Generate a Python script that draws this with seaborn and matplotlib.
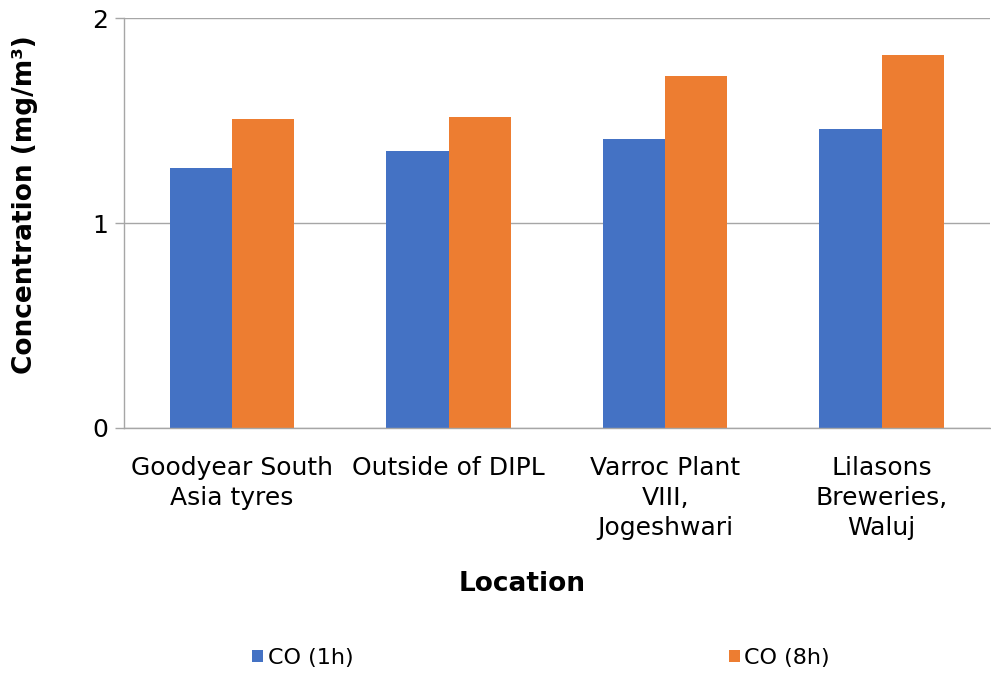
import matplotlib
matplotlib.use('Agg')
import matplotlib.pyplot as plt
import pandas as pd
import seaborn as sns

# values
locations = ['Goodyear South\nAsia tyres', 'Outside of DIPL',
             'Varroc Plant\nVIII,\nJogeshwari', 'Lilasons\nBreweries,\nWaluj']
co_1h = [1.27, 1.35, 1.41, 1.46]
co_8h = [1.51, 1.52, 1.72, 1.82]
series_names = ['CO (1h)', 'CO (8h)']
colors = ['#4472C4', '#ED7D31']

frame = pd.DataFrame({
    'Location': locations * 2,
    'Series': [series_names[0]] * 4 + [series_names[1]] * 4,
    'Value': co_1h + co_8h,
})

sns.set_style('white')
plt.rcParams['font.family'] = ['DejaVu Sans']
plt.rcParams['text.color'] = 'black'
plt.rcParams['axes.labelcolor'] = 'black'
plt.rcParams['xtick.color'] = 'black'
plt.rcParams['ytick.color'] = 'black'

fig = plt.figure(figsize=(9.91, 6.77), dpi=100)
ax = fig.add_axes([0.125, 0.368, 0.874, 0.605])

sns.barplot(data=frame, x='Location', y='Value', hue='Series', palette=colors,
            width=0.575, gap=0, saturation=1, linewidth=0, ax=ax, legend=True)

ax.set_ylim(0, 2)
ax.set_yticks([0, 1, 2])
ax.set_xlim(-0.5, 3.5)
ax.yaxis.grid(True, color='#A6A6A6', linewidth=1)
ax.set_axisbelow(True)
for side in ['top', 'right']:
    ax.spines[side].set_visible(False)
for side in ['left', 'bottom']:
    ax.spines[side].set_color('#A6A6A6')
    ax.spines[side].set_linewidth(1)
ax.tick_params(axis='y', left=True, length=6.5, width=1, color='#A6A6A6',
               labelcolor='black', labelsize=18, pad=5)
ax.tick_params(axis='x', length=0, labelsize=18, pad=20)
for lbl in ax.get_xticklabels():
    lbl.set_linespacing(1.33)

ax.set_xlabel('Location', fontsize=19, fontweight='bold')
ax.set_ylabel('Concentration (mg/m³)', fontsize=19, fontweight='bold')
ax.xaxis.set_label_coords(0.46, -0.349)
ax.yaxis.set_label_coords(-0.099, 0.544)

handles, labels = ax.get_legend_handles_labels()
ax.legend_.remove()
fig.legend(handles, labels, loc='center', bbox_to_anchor=(0.546, 0.028), ncol=2,
           frameon=False, fontsize=16, handlelength=0.5, handleheight=0.5,
           handletextpad=0.2, columnspacing=16.9)

fig.savefig('out.png', dpi=100)
